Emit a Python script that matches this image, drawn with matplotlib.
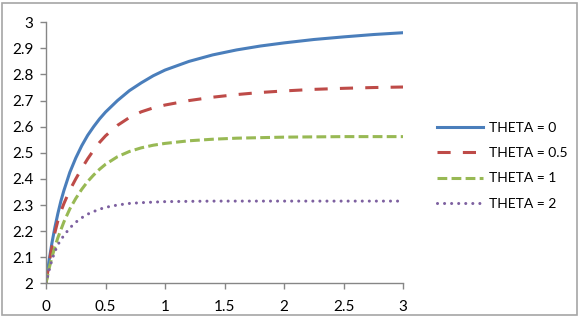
import matplotlib.pyplot as plt
from matplotlib.patches import Rectangle

# values
x = [0, 0.025, 0.05, 0.075, 0.1, 0.125, 0.15, 0.2, 0.25, 0.3, 0.35, 0.4, 0.45, 0.5,
     0.6, 0.7, 0.8, 0.9, 1.0, 1.2, 1.4, 1.6, 1.8, 2.0, 2.25, 2.5, 2.75, 3.0]
theta_0 = [2.0, 2.085, 2.155, 2.215, 2.268, 2.315, 2.355, 2.425, 2.48, 2.527, 2.567,
           2.60, 2.63, 2.656, 2.70, 2.738, 2.768, 2.795, 2.817, 2.85, 2.875, 2.894,
           2.909, 2.921, 2.934, 2.944, 2.953, 2.96]
theta_05 = [2.0, 2.075, 2.14, 2.195, 2.24, 2.275, 2.305, 2.357, 2.40, 2.44, 2.477,
            2.51, 2.54, 2.565, 2.605, 2.635, 2.657, 2.672, 2.683, 2.70, 2.713, 2.723,
            2.731, 2.737, 2.743, 2.747, 2.75, 2.752]
theta_1 = [2.0, 2.055, 2.10, 2.14, 2.175, 2.205, 2.235, 2.285, 2.325, 2.36, 2.39,
           2.415, 2.437, 2.456, 2.485, 2.505, 2.519, 2.529, 2.536, 2.546, 2.552, 2.556,
           2.558, 2.56, 2.561, 2.562, 2.562, 2.562]
theta_2 = [2.0, 2.048, 2.09, 2.122, 2.148, 2.167, 2.183, 2.212, 2.234, 2.251, 2.265,
           2.275, 2.284, 2.291, 2.30, 2.306, 2.309, 2.311, 2.313, 2.314, 2.315, 2.315,
           2.315, 2.315, 2.315, 2.315, 2.315, 2.315]
labels = ['THETA = 0', 'THETA = 0.5', 'THETA = 1', 'THETA = 2']
xticks = [0, 0.5, 1, 1.5, 2, 2.5, 3]
yticks = [2, 2.1, 2.2, 2.3, 2.4, 2.5, 2.6, 2.7, 2.8, 2.9, 3]

plt.rcParams['font.family'] = ['Lato', 'DejaVu Sans']

fig = plt.figure(figsize=(5.8, 3.18), dpi=100)
ax = fig.add_axes([0.0793, 0.109, 0.616, 0.821])

lw = 2.2
ax.plot(x, theta_0, color='#4A7EBB', lw=lw, label=labels[0])
ax.plot(x, theta_05, color='#BE4B48', lw=lw, dashes=(4.3, 4), label=labels[1])
ax.plot(x, theta_1, color='#98B954', lw=lw, dashes=(3.2, 1.4), label=labels[2])
ax.plot(x, theta_2, color='#7D60A0', lw=lw, dashes=(0.01, 2.3),
        dash_capstyle='round', label=labels[3])

ax.set_xlim(0, 3)
ax.set_ylim(2, 3)
ax.set_xticks(xticks)
ax.set_xticklabels(['0', '0.5', '1', '1.5', '2', '2.5', '3'])
ax.set_yticks(yticks)
ax.set_yticklabels(['2', '2.1', '2.2', '2.3', '2.4', '2.5', '2.6', '2.7', '2.8', '2.9', '3'])

for s in ['top', 'right']:
    ax.spines[s].set_visible(False)
for s in ['left', 'bottom']:
    ax.spines[s].set_color('#868686')
    ax.spines[s].set_linewidth(1)
ax.tick_params(direction='out', length=4, width=1, color='#868686',
               labelsize=11, labelcolor='#000000')
ax.tick_params(axis='x', pad=8)
ax.tick_params(axis='y', pad=5)

ax.legend(loc='center left', bbox_to_anchor=(1.075, 0.45), frameon=False,
          fontsize=10, handlelength=3.3, handletextpad=0.45,
          labelspacing=0.95, borderpad=0)

fig.patches.append(Rectangle((0.004, 0.008), 0.99, 0.982, transform=fig.transFigure,
                             fill=False, edgecolor='#A6A6A6', lw=1.2))

fig.savefig('out.png', dpi=100)
